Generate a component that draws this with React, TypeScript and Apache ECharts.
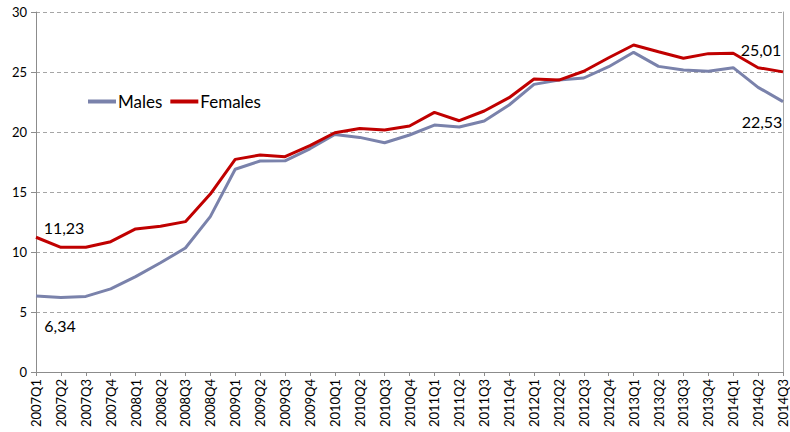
import React, { useEffect, useRef } from "react";
import * as echarts from "echarts";

const categories = [
  "2007Q1", "2007Q2", "2007Q3", "2007Q4",
  "2008Q1", "2008Q2", "2008Q3", "2008Q4",
  "2009Q1", "2009Q2", "2009Q3", "2009Q4",
  "2010Q1", "2010Q2", "2010Q3", "2010Q4",
  "2011Q1", "2011Q2", "2011Q3", "2011Q4",
  "2012Q1", "2012Q2", "2012Q3", "2012Q4",
  "2013Q1", "2013Q2", "2013Q3", "2013Q4",
  "2014Q1", "2014Q2", "2014Q3",
];

const males = [
  6.34, 6.2, 6.3, 6.93,
  7.95, 9.1, 10.33, 12.95,
  16.9, 17.58, 17.6, 18.6,
  19.8, 19.55, 19.1, 19.75,
  20.58, 20.42, 20.92, 22.25,
  23.97, 24.33, 24.5, 25.44,
  26.64, 25.47, 25.17, 25.06,
  25.36, 23.72, 22.53,
];

const females = [
  11.23, 10.39, 10.4, 10.86,
  11.92, 12.14, 12.53, 14.83,
  17.72, 18.08, 17.94, 18.86,
  19.94, 20.3, 20.17, 20.5,
  21.64, 20.94, 21.75, 22.86,
  24.42, 24.33, 25.06, 26.19,
  27.25, 26.69, 26.14, 26.53,
  26.56, 25.36, 25.01,
];

const yTicks = { min: 0, max: 30, interval: 5 };

const FONT = "Lato, 'Open Sans', sans-serif";
const fmt = (v: number) => v.toFixed(2).replace(".", ",");

function withEndLabels(values: number[], firstOffset: number[], lastOffset: number[]) {
  const n = values.length;
  return values.map((v, i) => {
    if (i === 0 || i === n - 1) {
      return {
        value: v,
        label: {
          show: true,
          position: "top",
          offset: i === 0 ? firstOffset : lastOffset,
          formatter: () => fmt(v),
          fontSize: 16,
          fontFamily: FONT,
          color: "#000",
        },
      };
    }
    return v;
  });
}

export default function App() {
  const ref = useRef<HTMLDivElement>(null);
  useEffect(() => {
    if (!ref.current) return;
    const chart = echarts.init(ref.current, null, { renderer: "svg" });
    chart.setOption({
      animation: false,
      grid: { left: 36, right: 7, top: 12, bottom: 60 },
      legend: {
        left: 83,
        top: 88,
        itemGap: 8,
        itemWidth: 28,
        itemHeight: 4,
        icon: "rect",
        textStyle: { fontSize: 17, fontFamily: FONT, color: "#000", padding: [0, 0, 0, -3] },
        data: ["Males", "Females"],
      },
      xAxis: {
        type: "category",
        data: categories,
        boundaryGap: false,
        axisLine: { lineStyle: { color: "#8c8c8c", width: 1 } },
        axisTick: { show: true, length: 4, lineStyle: { color: "#8c8c8c" }, interval: 0 },
        axisLabel: {
          rotate: 90,
          interval: 0,
          fontSize: 13,
          fontFamily: FONT,
          color: "#000",
          margin: 7,
        },
        splitLine: { show: false },
      },
      yAxis: [
        {
          type: "value",
          min: yTicks.min,
          max: yTicks.max,
          interval: yTicks.interval,
          axisLine: { show: true, lineStyle: { color: "#8c8c8c" } },
          axisTick: { show: true, length: 5, lineStyle: { color: "#8c8c8c" } },
          axisLabel: { fontSize: 13, fontFamily: FONT, color: "#000", margin: 9 },
          splitLine: { show: true, lineStyle: { color: "#a6a6a6", type: [4, 3], width: 1 } },
        },
        {
          type: "value",
          position: "right",
          min: yTicks.min,
          max: yTicks.max,
          interval: yTicks.interval,
          axisLine: { show: true, lineStyle: { color: "#a6a6a6" } },
          axisTick: { show: false },
          axisLabel: { show: false },
          splitLine: { show: false },
        },
      ],
      series: [
        {
          name: "Males",
          type: "line",
          data: withEndLabels(males, [24, 43], [-21, 33]),
          showSymbol: true,
          symbol: "circle",
          symbolSize: 0,
          lineStyle: { color: "#7a82ab", width: 3 },
          itemStyle: { color: "#7a82ab" },
          z: 2,
        },
        {
          name: "Females",
          type: "line",
          data: withEndLabels(females, [28, 3], [-22, -9]),
          showSymbol: true,
          symbol: "circle",
          symbolSize: 0,
          lineStyle: { color: "#c00000", width: 3 },
          itemStyle: { color: "#c00000" },
          z: 3,
        },
      ],
    });
    return () => chart.dispose();
  }, []);
  return <div ref={ref} style={{ width: 790, height: 432, position: "absolute", left: 0, top: 0 }} />;
}
